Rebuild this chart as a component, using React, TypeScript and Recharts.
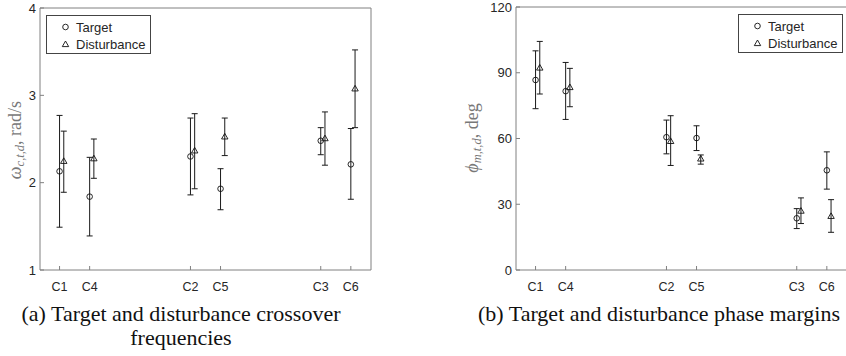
import React from 'react'
import { ComposedChart, Scatter, XAxis, YAxis, ErrorBar } from 'recharts'

// configurations, in plotting order, and where they sit on the x axis
const configs = ['C1', 'C4', 'C2', 'C5', 'C3', 'C6']
const configX = [0.65, 1.65, 5, 6, 9.33, 10.33]

// (a) crossover frequencies, rad/s
const wTarget = [2.13, 1.84, 2.3, 1.93, 2.48, 2.21]
const wTargetHi = [2.77, 2.29, 2.74, 2.16, 2.63, 2.62]
const wTargetLo = [1.49, 1.39, 1.86, 1.69, 2.32, 1.81]
const wDist = [2.25, 2.28, 2.37, 2.53, 2.51, 3.08]
const wDistHi = [2.59, 2.5, 2.79, 2.74, 2.81, 3.52]
const wDistLo = [1.89, 2.05, 1.93, 2.31, 2.2, 2.63]

// (b) phase margins, deg
const pmTarget = [86.7, 81.6, 60.6, 60.2, 23.6, 45.5]
const pmTargetHi = [100, 94.7, 68.4, 65.8, 28, 53.9]
const pmTargetLo = [73.6, 68.7, 53, 54.5, 18.9, 36.9]
const pmDist = [92.4, 83.5, 58.9, 50.9, 27.1, 24.7]
const pmDistHi = [104.3, 92, 70.4, 52.5, 32.9, 32.1]
const pmDistLo = [80.3, 74.5, 47.7, 48.3, 21.2, 17.2]

const wTicks = [1, 2, 3, 4]
const pmTicks = [0, 30, 60, 90, 120]

const DIST_SHIFT = 0.14
const AXIS = '#808080'
const TXT = '#262626'
const SANS = '"Liberation Sans", Arial, sans-serif'
const SERIF = '"Liberation Serif", "DejaVu Serif", serif'

const rows = (mid: number[], hi: number[], lo: number[], shift: number) =>
  mid.map((v, i) => ({ x: configX[i] + shift, y: v, err: [v - lo[i], hi[i] - v] }))

const Circle = (p: any) => (
  <circle cx={p.cx} cy={p.cy} r={2.8} fill="none" stroke="#111" strokeWidth={0.9} />
)
const Tri = (p: any) => (
  <path d={`M${p.cx - 3.2},${p.cy + 2.6} L${p.cx + 3.2},${p.cy + 2.6} L${p.cx},${p.cy - 3} Z`}
    fill="none" stroke="#111" strokeWidth={0.9} />
)

const LeftTick = ({ x, y, payload }: any) => (
  <g>
    <line x1={x} x2={x + 4} y1={y} y2={y} stroke={AXIS} />
    <text x={x - 4} y={y + 4.5} textAnchor="end" fontSize={13} fill={TXT} fontFamily={SANS}>{payload.value}</text>
  </g>
)
const RightTick = ({ x, y }: any) => <line x1={x} x2={x - 4} y1={y} y2={y} stroke={AXIS} />
const TopTick = ({ x, y }: any) => <line x1={x} x2={x} y1={y} y2={y + 4} stroke={AXIS} />
const BottomTick = ({ x, y, payload }: any) => (
  <g>
    <line x1={x} x2={x} y1={y} y2={y - 4} stroke={AXIS} />
    <text x={x} y={y + 21} textAnchor="middle" fontSize={12.5} fill={TXT} fontFamily={SANS}>
      {configs[configX.indexOf(payload.value)]}
    </text>
  </g>
)

function Panel({ target, dist, domain, ticks, top }: any) {
  // axes are 1px thick so they still draw; margins are trimmed by that 1px
  return (
    <ComposedChart width={380} height={300} margin={{ top: top - 1, right: 8, bottom: 29, left: 39 }}>
      <XAxis xAxisId="b" type="number" dataKey="x" domain={[0, 11]} ticks={configX} interval={0}
        height={1} tickSize={0} tickMargin={0} tickLine={false} axisLine={{ stroke: AXIS }} tick={<BottomTick />} />
      <XAxis xAxisId="t" orientation="top" type="number" domain={[0, 11]} ticks={configX} interval={0}
        height={1} tickSize={0} tickMargin={0} tickLine={false} axisLine={{ stroke: AXIS }} tick={<TopTick />} />
      <YAxis yAxisId="l" type="number" domain={domain} ticks={ticks} interval={0}
        width={1} tickSize={0} tickMargin={0} tickLine={false} axisLine={{ stroke: AXIS }} tick={<LeftTick />} />
      <YAxis yAxisId="r" orientation="right" type="number" domain={domain} ticks={ticks} interval={0}
        width={1} tickSize={0} tickMargin={0} tickLine={false} axisLine={{ stroke: AXIS }} tick={<RightTick />} />
      <Scatter xAxisId="b" yAxisId="l" data={target} dataKey="y" shape={<Circle />} isAnimationActive={false}>
        <ErrorBar dataKey="err" direction="y" width={3} stroke="#1a1a1a" strokeWidth={1} isAnimationActive={false} />
      </Scatter>
      <Scatter xAxisId="b" yAxisId="l" data={dist} dataKey="y" shape={<Tri />} isAnimationActive={false}>
        <ErrorBar dataKey="err" direction="y" width={3} stroke="#1a1a1a" strokeWidth={1} isAnimationActive={false} />
      </Scatter>
    </ComposedChart>
  )
}

const LegendBox = ({ left, top }: { left: number; top: number }) => (
  <svg width={106} height={40} style={{ position: 'absolute', left, top }}>
    <rect x={0.5} y={0.5} width={104} height={38} fill="#fff" stroke="#444" />
    <Circle cx={19.5} cy={12} />
    <text x={30} y={16.5} fontSize={13} fill={TXT} fontFamily={SANS}>Target</text>
    <Tri cx={19.5} cy={29} />
    <text x={30} y={33.5} fontSize={13} fill={TXT} fontFamily={SANS}>Disturbance</text>
  </svg>
)

const AxisTitle = ({ left, cx, cy, sym, sub, unit }: any) => (
  <svg width={40} height={300} style={{ position: 'absolute', left, top: 0 }}>
    <text transform={`rotate(-90 ${cx} ${cy})`} x={cx} y={cy + 5} textAnchor="middle"
      fontSize={18} fill="#787878" fontFamily={SERIF}>
      <tspan fontStyle="italic">{sym}</tspan>
      <tspan fontStyle="italic" fontSize={12.5} dy={3}>{sub}</tspan>
      <tspan dy={-3}>{unit}</tspan>
    </text>
  </svg>
)

export default function App() {
  const capStyle: React.CSSProperties = {
    position: 'absolute', fontFamily: SERIF, fontSize: 22, color: '#111',
    textAlign: 'center', lineHeight: '24px', whiteSpace: 'nowrap',
  }
  return (
    <div style={{ position: 'absolute', left: 0, top: 0, width: 846, height: 356, overflow: 'hidden', background: '#fff' }}>
      <div style={{ position: 'absolute', left: 0, top: 0 }}>
        <Panel target={rows(wTarget, wTargetHi, wTargetLo, 0)} dist={rows(wDist, wDistHi, wDistLo, DIST_SHIFT)}
          domain={[1, 4]} ticks={wTicks} top={8} />
      </div>
      <div style={{ position: 'absolute', left: 476, top: 0 }}>
        <Panel target={rows(pmTarget, pmTargetHi, pmTargetLo, 0)} dist={rows(pmDist, pmDistHi, pmDistLo, DIST_SHIFT)}
          domain={[0, 120]} ticks={pmTicks} top={7} />
      </div>
      <AxisTitle left={0} cx={16} cy={140} sym="ω" sub="c,t,d" unit=", rad/s" />
      <AxisTitle left={453} cx={20} cy={138} sym="ϕ" sub="m,t,d" unit=", deg" />
      <LegendBox left={46} top={15} />
      <LegendBox left={738} top={14} />
      <div style={{ ...capStyle, left: 0, width: 362, top: 302 }}>
        (a) Target and disturbance crossover<br />frequencies
      </div>
      <div style={{ ...capStyle, left: 476, width: 366, top: 302 }}>
        (b) Target and disturbance phase margins
      </div>
    </div>
  )
}
